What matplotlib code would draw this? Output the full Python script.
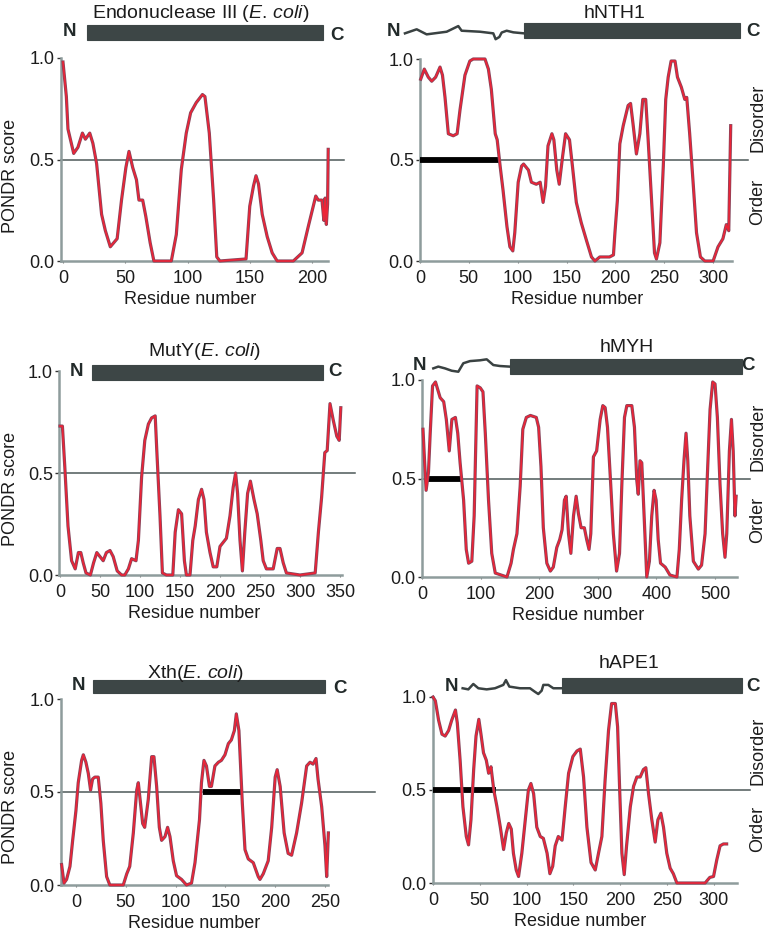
import matplotlib
matplotlib.use("Agg")
import matplotlib.pyplot as plt
import matplotlib.transforms as mtransforms

plt.rcParams['font.family'] = ['Liberation Sans', 'DejaVu Sans']
plt.rcParams['mathtext.fontset'] = 'custom'
plt.rcParams['mathtext.rm'] = 'Liberation Sans'
plt.rcParams['mathtext.it'] = 'Liberation Sans:italic'

# ---------------- data ----------------
endo_x = [0, 2.7, 4, 8.6, 12, 15.6, 18, 21.5, 24, 27, 31, 34, 38, 43.5, 47, 50.5, 53, 56, 59, 61, 64,
          66.5, 70, 73, 87, 91, 95, 99, 102.5, 107, 112, 114, 117.5, 121, 123.5, 126, 147, 150, 153,
          155, 157, 160, 164, 168, 172, 185, 192, 197, 203, 205, 208, 209.5, 210.5, 211.5, 212.5, 213]
endo_y = [0.98, 0.81, 0.65, 0.53, 0.56, 0.63, 0.60, 0.63, 0.58, 0.48, 0.23, 0.15, 0.07, 0.11, 0.30,
          0.46, 0.54, 0.46, 0.40, 0.30, 0.30, 0.22, 0.09, 0.0, 0.0, 0.13, 0.45, 0.63, 0.73, 0.78,
          0.82, 0.81, 0.63, 0.30, 0.02, 0.0, 0.01, 0.27, 0.37, 0.42, 0.38, 0.23, 0.12, 0.04, 0.0,
          0.0, 0.04, 0.17, 0.32, 0.30, 0.30, 0.20, 0.31, 0.18, 0.28, 0.55]

nth1_x = [0.7, 4.4, 8.5, 12, 16, 20.5, 23, 25.6, 29, 34, 38, 41, 46, 51, 54.5, 66.5, 70, 73, 77, 79,
          82, 85, 89, 92, 95, 97, 100.5, 104, 106, 111, 114, 119, 123, 126, 128.5, 131, 135, 137,
          140, 142.5, 146, 149, 153, 156, 160, 165, 170.5, 175.5, 179, 184, 194, 198, 199.5, 202,
          204.5, 208, 213, 215.5, 218, 221.5, 225, 228, 231, 233.5, 237, 240, 242, 245.5, 249,
          251.5, 254, 257, 261, 263.5, 267.5, 271, 273, 276, 279.5, 283, 287, 291.5, 300, 305,
          310, 313.5, 316, 318]
nth1_y = [0.90, 0.95, 0.91, 0.89, 0.91, 0.96, 0.92, 0.81, 0.63, 0.62, 0.63, 0.75, 0.92, 0.99, 1.0,
          1.0, 0.95, 0.85, 0.63, 0.60, 0.47, 0.35, 0.17, 0.07, 0.05, 0.14, 0.39, 0.47, 0.48, 0.45,
          0.39, 0.38, 0.39, 0.29, 0.37, 0.57, 0.63, 0.60, 0.45, 0.38, 0.52, 0.63, 0.60, 0.47, 0.29,
          0.19, 0.10, 0.02, 0.0, 0.02, 0.02, 0.03, 0.14, 0.30, 0.58, 0.67, 0.77, 0.78, 0.68, 0.53,
          0.63, 0.80, 0.80, 0.60, 0.30, 0.04, 0.01, 0.09, 0.47, 0.80, 0.91, 0.99, 0.99, 0.91, 0.86,
          0.80, 0.81, 0.63, 0.39, 0.14, 0.02, 0.0, 0.0, 0.07, 0.11, 0.18, 0.15, 0.67]

muty_x = [0, 3, 6, 10, 14.5, 19, 23, 26, 29, 32.5, 38, 42, 46, 50, 54, 58, 62.5, 66.5, 71.5, 77, 81,
          85.5, 89.5, 95, 98, 102, 106, 110.5, 114.5, 119, 121, 125, 128, 133, 141, 144, 148, 152,
          155.5, 158, 162.5, 166, 169, 173, 177, 180, 183, 187.5, 191.5, 196, 200, 204, 208, 212.5,
          216.5, 219.5, 222, 225, 228, 231, 234.5, 238, 242.5, 246.5, 251, 254, 258, 266.5, 271.5,
          275, 279, 283, 300, 319, 323, 327, 331, 334, 337.5, 341.5, 346, 349, 351]
muty_y = [0.73, 0.73, 0.53, 0.24, 0.07, 0.03, 0.11, 0.11, 0.06, 0.01, 0.0, 0.06, 0.11, 0.09, 0.07,
          0.11, 0.12, 0.09, 0.02, 0.0, 0.0, 0.03, 0.08, 0.07, 0.17, 0.48, 0.66, 0.74, 0.77, 0.78,
          0.61, 0.29, 0.01, 0.0, 0.0, 0.21, 0.32, 0.30, 0.07, 0.0, 0.0, 0.17, 0.24, 0.37, 0.42, 0.37,
          0.21, 0.11, 0.04, 0.04, 0.14, 0.16, 0.18, 0.29, 0.43, 0.50, 0.40, 0.17, 0.02, 0.21, 0.40,
          0.46, 0.37, 0.30, 0.17, 0.07, 0.03, 0.03, 0.13, 0.13, 0.06, 0.01, 0.0, 0.01, 0.21, 0.38,
          0.60, 0.61, 0.84, 0.76, 0.68, 0.66, 0.82]

myh_x = [1.7, 4, 7, 11, 14, 18, 23, 27, 31, 37, 41.5, 46.5, 51, 57, 61, 65, 71, 75.5, 79.5, 85, 89,
         94, 99.5, 104, 108, 113.5, 119, 125, 145, 152, 156, 162, 167.5, 172, 178, 185, 195, 199,
         203, 207, 213, 219, 224, 230, 235, 239, 243, 246, 250, 254, 258.5, 263, 267, 271.5, 277,
         281, 285, 288, 292.5, 298, 304, 308.5, 312.5, 316.5, 322, 326.5, 332, 337, 341, 345.5,
         349.5, 358, 362.5, 366.5, 369, 372, 375, 379, 383.5, 388, 392, 396, 399.5, 403, 407, 415,
         423, 435, 439, 443, 447, 450.5, 453.5, 457, 463, 471.5, 477, 483, 487.5, 491.5, 496, 500,
         504, 508.5, 513, 517, 520, 524.5, 528, 531, 534, 536]
myh_y = [0.75, 0.61, 0.44, 0.53, 0.73, 0.97, 0.99, 0.95, 0.91, 0.89, 0.80, 0.64, 0.80, 0.81, 0.73,
         0.58, 0.39, 0.14, 0.07, 0.08, 0.31, 0.97, 0.96, 0.94, 0.73, 0.39, 0.12, 0.02, 0.0, 0.07,
         0.14, 0.22, 0.46, 0.75, 0.81, 0.82, 0.81, 0.76, 0.56, 0.25, 0.07, 0.03, 0.05, 0.15, 0.19,
         0.24, 0.39, 0.41, 0.22, 0.12, 0.31, 0.41, 0.32, 0.25, 0.25, 0.19, 0.14, 0.22, 0.61, 0.64,
         0.80, 0.87, 0.86, 0.76, 0.47, 0.22, 0.03, 0.12, 0.47, 0.81, 0.87, 0.87, 0.76, 0.49, 0.42,
         0.59, 0.58, 0.31, 0.0, 0.08, 0.31, 0.44, 0.39, 0.19, 0.07, 0.05, 0.01, 0.0, 0.14, 0.39,
         0.59, 0.73, 0.59, 0.31, 0.08, 0.04, 0.06, 0.22, 0.56, 0.85, 0.99, 0.98, 0.81, 0.47, 0.22,
         0.10, 0.22, 0.64, 0.80, 0.64, 0.31, 0.41]

xth_x = [-14.4, -12, -9.4, -6, -3.3, 0, 2.3, 5.7, 7.4, 10, 12.4, 14.7, 16.7, 19, 22.4, 25, 27.4,
         30.8, 34, 47.5, 51, 54, 57.6, 61, 62.6, 64, 67, 69, 72.6, 76, 78.3, 81, 83.7, 86, 89.4, 92,
         94.4, 97.7, 101, 106, 111, 116, 119.5, 124, 126, 128.5, 131, 134, 136, 139.5, 143, 146,
         149.6, 153, 156, 159, 161, 163.6, 165, 167, 169.7, 173, 178, 183, 184.7, 188, 193, 196.5,
         200, 202, 205, 209, 213, 216.5, 221.5, 226.5, 231.6, 235, 238, 241, 243, 246.7, 250,
         251.7, 253.4]
xth_y = [0.11, 0.01, 0.03, 0.10, 0.24, 0.40, 0.55, 0.67, 0.70, 0.66, 0.60, 0.51, 0.57, 0.58, 0.58,
         0.44, 0.24, 0.045, 0.0, 0.0, 0.06, 0.10, 0.28, 0.51, 0.55, 0.48, 0.33, 0.31, 0.46, 0.69,
         0.69, 0.53, 0.31, 0.24, 0.26, 0.31, 0.26, 0.13, 0.05, 0.03, 0.0, 0.01, 0.12, 0.35, 0.55,
         0.67, 0.64, 0.53, 0.53, 0.64, 0.66, 0.67, 0.70, 0.76, 0.78, 0.83, 0.92, 0.83, 0.67, 0.44,
         0.19, 0.14, 0.12, 0.045, 0.03, 0.06, 0.13, 0.31, 0.58, 0.62, 0.53, 0.28, 0.17, 0.16, 0.28,
         0.44, 0.64, 0.66, 0.65, 0.68, 0.57, 0.42, 0.21, 0.045, 0.28]

ape1_x = [0, 2.5, 6, 9.6, 13, 16.7, 20, 24, 26, 29, 32, 35.6, 38, 40.6, 43.5, 46, 49, 51.3, 54, 57,
          59.5, 62, 65, 68.4, 72, 75.5, 78.4, 81, 83.7, 86, 89, 91.5, 95, 98.7, 102, 104.7, 107.6,
          111, 114.7, 118, 122, 125, 128, 130.7, 134, 138, 141.4, 145, 149.6, 154, 157.5, 161,
          164.6, 169, 173.5, 177, 180.6, 184, 187.7, 191, 195, 197.4, 199.5, 202, 204.5, 207, 211,
          214.5, 218, 221.6, 225, 227.6, 230.5, 234, 237.6, 240.5, 243.7, 246.5, 250, 253.6, 257,
          260.8, 291, 296, 300, 303.5, 307, 310.6, 314]
ape1_y = [1.0, 0.98, 0.875, 0.80, 0.79, 0.82, 0.875, 0.93, 0.86, 0.66, 0.41, 0.25, 0.205, 0.34,
          0.61, 0.79, 0.88, 0.80, 0.70, 0.66, 0.59, 0.625, 0.50, 0.41, 0.30, 0.18, 0.27, 0.32, 0.29,
          0.16, 0.07, 0.035, 0.16, 0.34, 0.50, 0.535, 0.48, 0.30, 0.25, 0.24, 0.16, 0.05, 0.09,
          0.20, 0.25, 0.23, 0.41, 0.59, 0.68, 0.71, 0.72, 0.57, 0.30, 0.11, 0.07, 0.16, 0.25, 0.55,
          0.82, 0.965, 0.965, 0.84, 0.52, 0.16, 0.045, 0.20, 0.41, 0.52, 0.57, 0.57, 0.61, 0.62,
          0.48, 0.34, 0.22, 0.34, 0.375, 0.30, 0.16, 0.08, 0.05, 0.0, 0.0, 0.03, 0.035, 0.125, 0.20,
          0.21, 0.21]

# domain schematics (residue ranges) and wavy disordered N-termini (residue, height)
endo_domain = [19, 209]
nth1_domain = [106, 328]
muty_domain = [40, 329]
myh_domain = [150, 546]
xth_domain = [17, 250]
ape1_domain = [138, 330]

nth1_wave_x = [-15.4, -3.4, 6.8, 27.3, 39.2, 42.6, 61.4, 75, 77.4, 81.2, 83.6, 88.7, 95.5, 106.4]
nth1_wave_y = [1.127, 1.147, 1.122, 1.135, 1.163, 1.140, 1.135, 1.127, 1.098, 1.109, 1.131, 1.140,
               1.132, 1.127]
myh_wave_x = [19.3, 27.8, 39.2, 50.7, 62, 70.5, 81.9, 99, 110.4, 121.7, 133, 149]
myh_wave_y = [1.059, 1.068, 1.059, 1.047, 1.042, 1.085, 1.096, 1.10, 1.105, 1.076, 1.071, 1.068]
ape1_wave_x = [31.7, 37.8, 43.1, 48.5, 57.4, 66.3, 75.2, 78, 81.6, 93, 103.7, 109, 112.6, 116.2,
               118, 123.3, 128.7, 137.6]
ape1_wave_y = [1.047, 1.041, 1.070, 1.047, 1.041, 1.047, 1.065, 1.091, 1.056, 1.047, 1.047, 1.028,
               1.016, 1.034, 1.065, 1.065, 1.047, 1.047]

# disordered segments (thick black bars at 0.5)
nth1_seg = [0, 82]
myh_seg = [8, 66.5]
xth_seg = [128, 166]
ape1_seg = [0, 67.5]

titles = [r'Endonuclease III ($\mathit{E.\,coli}$)', 'hNTH1',
          r'MutY($\mathit{E.\,coli}$)', 'hMYH',
          r'Xth($\mathit{E.\,coli}$)', 'hAPE1']
xticks_list = [[0, 50, 100, 150, 200], [0, 50, 100, 150, 200, 250, 300],
               [0, 50, 100, 150, 200, 250, 300, 350], [0, 100, 200, 300, 400, 500],
               [0, 50, 100, 150, 200, 250], [0, 50, 100, 150, 200, 250, 300]]
yticks = [0.0, 0.5, 1.0]

# ---------------- layout (pixels) ----------------
W, H = 767, 935
fig = plt.figure(figsize=(W / 100, H / 100), dpi=100)

panels = [
    dict(x=endo_x, y=endo_y, box=(60.5, 344.4, 58, 261), xlim=(-2, 226), spine=(-2, 213),
         dom=endo_domain, bar_y=1.126, bar_h=0.074, N=(5.6, 1.13), C=(220, 1.113),
         title_px=(201, 14), wave=None, seg=None, right=False, xl=0.457),
    dict(x=nth1_x, y=nth1_y, box=(420, 748.3, 59, 261), xlim=(0, 336), spine=(0, 319),
         dom=nth1_domain, bar_y=1.140, bar_h=0.074, N=(-27.3, 1.135), C=(341, 1.135),
         title_px=(615, 13), wave=(nth1_wave_x, nth1_wave_y), seg=nth1_seg, right=True, xl=0.48),
    dict(x=muty_x, y=muty_y, box=(59.2, 355.2, 371, 575), xlim=(-1, 369), spine=(-1, 352),
         dom=muty_domain, bar_y=0.993, bar_h=0.074, N=(20.8, 1.0), C=(343.8, 1.0),
         title_px=(204, 352), wave=None, seg=None, right=False, xl=0.455),
    dict(x=myh_x, y=myh_y, box=(422, 750.2, 380, 577), xlim=(0, 560), spine=(0, 537),
         dom=myh_domain, bar_y=1.068, bar_h=0.075, N=(-4.6, 1.076), C=(557, 1.076),
         title_px=(627, 347), wave=(myh_wave_x, myh_wave_y), seg=myh_seg, right=True, xl=0.476),
    dict(x=xth_x, y=xth_y, box=(61, 374.8, 699, 885), xlim=(-15, 300), spine=(-15, 253),
         dom=xth_domain, bar_y=1.068, bar_h=0.068, N=(2.3, 1.075), C=(265, 1.057),
         title_px=(195, 673), wave=None, seg=xth_seg, right=False, xl=0.424),
    dict(x=ape1_x, y=ape1_y, box=(433, 750, 697, 883), xlim=(0, 339), spine=(0, 325),
         dom=ape1_domain, bar_y=1.060, bar_h=0.081, N=(20, 1.055), C=(342.6, 1.055),
         title_px=(629, 663), wave=(ape1_wave_x, ape1_wave_y), seg=ape1_seg, right=True, xl=0.464),
]

TXT = '#1c1c1c'
SPINE = '#8e9c9c'
BARC = '#3d4646'

for i, p in enumerate(panels):
    l, r, t, b = p['box']
    ax = fig.add_axes([l / W, 1 - b / H, (r - l) / W, (b - t) / H])
    ax.set_xlim(*p['xlim'])
    ax.set_ylim(0, 1.0)
    ax.set_facecolor('none')
    for s in ['top', 'right']:
        ax.spines[s].set_visible(False)
    for s in ['left', 'bottom']:
        ax.spines[s].set_color(SPINE)
        ax.spines[s].set_linewidth(1.8)
    ax.spines['bottom'].set_bounds(*p['spine'])
    ax.set_xticks(xticks_list[i])
    ax.set_yticks(yticks)
    ax.set_yticklabels(['0.0', '0.5', '1.0'])
    ax.tick_params(axis='y', length=3, width=1.0, color='#333333', pad=1.5,
                   labelsize=13, labelcolor=TXT)
    ax.tick_params(axis='x', length=1.5, width=0.8, color='#777777', pad=5,
                   labelsize=13, labelcolor=TXT)

    # threshold
    ax.axhline(0.5, color='#4d5858', lw=1.1, zorder=2, clip_on=False)
    if p['seg'] is not None:
        ax.plot(p['seg'], [0.5, 0.5], color='black', lw=4.2, solid_capstyle='butt',
                zorder=3, clip_on=False)

    # PONDR curve: dark rim + red core
    ax.plot(p['x'], p['y'], color='#87465c', lw=2.3, zorder=4, clip_on=False,
            solid_joinstyle='round')
    ax.plot(p['x'], p['y'], color='#ec2437', lw=1.2, zorder=5, clip_on=False,
            solid_joinstyle='round')

    # domain schematic
    d0, d1 = p['dom']
    ax.add_patch(plt.Rectangle((d0, p['bar_y'] - p['bar_h'] / 2), d1 - d0, p['bar_h'],
                               facecolor=BARC, edgecolor=BARC, lw=0.8, clip_on=False, zorder=6))
    if p['wave'] is not None:
        ax.plot(p['wave'][0], p['wave'][1], color='#3a4242', lw=1.8, clip_on=False, zorder=6)
    ax.text(p['N'][0], p['N'][1], 'N', fontsize=13.5, fontweight='bold', color='#222a2a',
            ha='center', va='center', clip_on=False)
    ax.text(p['C'][0], p['C'][1], 'C', fontsize=13.5, fontweight='bold', color='#222a2a',
            ha='center', va='center', clip_on=False)

    # title
    fig.text(p['title_px'][0] / W, 1 - p['title_px'][1] / H, titles[i], fontsize=14,
             color=TXT, ha='center', va='center')

    # axis labels
    ax.set_xlabel('Residue number', fontsize=13, color=TXT)
    ax.xaxis.set_label_coords(p['xl'], -38 / (b - t))
    ax.xaxis.label.set_va('center')
    if not p['right']:
        ax.set_ylabel('PONDR score', fontsize=13, color=TXT)
        ax.yaxis.set_label_coords((11 - l) / (r - l), 0.42)
        ax.yaxis.label.set_va('center')
    else:
        tr = mtransforms.blended_transform_factory(ax.transAxes, ax.transData)
        xf = (758 - l) / (r - l)
        ax.text(xf, 0.71, 'Disorder', rotation=90, fontsize=13, color=TXT,
                ha='center', va='center', transform=tr)
        ax.text(xf, 0.29, 'Order', rotation=90, fontsize=13, color=TXT,
                ha='center', va='center', transform=tr)

fig.savefig('out.png', dpi=100, facecolor='white')
